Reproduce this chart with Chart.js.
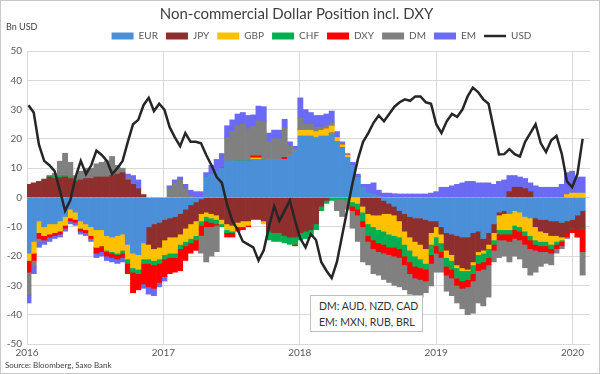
<!DOCTYPE html>
<html>
<head>
<meta charset="utf-8">
<script src="https://cdn.jsdelivr.net/npm/chart.js@4.4.1/dist/chart.umd.min.js"></script>
<style>
  body { margin: 0; background: #fff; }
  .wrap { position: relative; width: 600px; height: 374px; font-family: Lato, "Liberation Sans", sans-serif; }
  .frame { position: absolute; left: 0; top: 0; width: 600px; height: 374px; box-sizing: border-box; border: 1px solid #c8c8c8; pointer-events: none; }
  .unit { position: absolute; left: 6px; top: 21px; font-size: 9px; color: #404040; }
  .source { position: absolute; left: 5px; top: 360px; font-size: 8px; color: #404040; }
  .note { position: absolute; left: 310px; top: 295px; width: 113px; height: 37px; box-sizing: border-box; white-space: nowrap;
          border: 1px solid #bfbfbf; background: #fff; font-size: 10.5px; color: #333; padding: 2px 0 0 8px; line-height: 16px; }
</style>
</head>
<body>
<div class="wrap">
  <canvas id="dollarChart" width="600" height="374"></canvas>
  <div class="unit">Bn USD</div>
  <div class="source">Source: Bloomberg, Saxo Bank</div>
  <div class="note">DM: AUD, NZD, CAD<br>EM: MXN, RUB, BRL</div>
  <div class="frame"></div>
</div>
<script>
/* biweekly observations, Jan 2016 - Jan 2020 (Bn USD) */
const eur = [
  -19, -15, -8, -10, -9, -9, -8, -6.5, -4, -5,
  -8, -9, -10, -11, -11, -13, -13.5, -13, -12.5, -16,
  -19, -19.5, -15.5, -10, -9, -8.5, -7.5, -7, -6.5, -5.5,
  -4, -2.5, -1.5, -0.5, 7, 8, 9, 10, 12.5, 12.5,
  12.5, 12.5, 12.5, 13, 13, 13, 13, 13, 13, 13,
  14.5, 16, 21, 21, 21, 20.5, 21, 21, 22, 19,
  17, 13.5, 11, 7, 3.5, 1.5, 1, 0.5, -1, -2,
  -3, -4.5, -5.5, -6.5, -7, -7, -7.5, -8, -8, -10,
  -12, -12.5, -13, -13.5, -13.5, -12, -11.5, -14, -12, -9,
  -5, -4.5, -5.5, -4.5, -5, -6.5, -7, -7, -7.5, -7.5,
  -8, -8, -8.5, -8, -7.5, -6, -4.5
];
const jpy = [
  4.5, 5, 5.5, 6.3, 7, 6.5, 6.8, 7, 6.5, 5.5,
  6, 6.5, 6.5, 7, 7, 7, 7.5, 8, 8.5, 6,
  4.5, 3, 1, -6, -8.5, -8.5, -7, -6.5, -7, -7,
  -6.5, -6.5, -6.5, -5, -5, -5.5, -6, -7.5, -9, -9.5,
  -8.5, -8, -8, -7.5, -7.5, -8, -11.5, -12, -12, -13,
  -13.5, -13.5, -12, -11.5, -11, -9, -3, -1, 0, 0,
  0, 0, 0, 0, -3, -5.5, -6, -6, -4.5, -3.5,
  -3, -3.5, -6, -7, -8, -9, -10, -4, -2, -2.5,
  -6, -7, -10, -10.5, -11, -10, -7, -4, -4, -3,
  -1, -1, 2, 3.5, 3.5, 3, 2, -3, -4, -4.5,
  -5, -5, -5, -4, -3, -5, -6
];
const gbp = [
  -2.5, -4, -4, -3, -3.5, -3, -3.5, -3, -3, -2.5,
  -2.5, -2, -3, -6, -5.5, -5, -5, -6, -5.5, -5,
  -5, -5, -5.5, -5, -4, -4, -5, -5.5, -5.5, -3.5,
  -4.5, -5, -5, -2.5, -1.5, -1.5, -1.5, -1.5, -2, -2,
  -1.5, -2, -1.5, 0.5, 0.5, -1, 0, 0, 0, 0,
  0, 0, 2, 2, 2, 2, 2, 2.5, 2.5, 1.5,
  1, 1, -1.5, -2, -2, -3.5, -4, -5, -6, -7,
  -7, -5.5, -4.5, -4.5, -5, -5, -5, -4, -3.5, -3,
  -2.5, -2, -1, -1, -0.5, -1, -1, -1, -1.5, -2.5,
  -5, -5.5, -5.5, -5, -5, -5, -6, -4.5, -3.5, -3,
  -3, -2, -1, 1, 1.5, 1.5, 1.5
];
const chf = [
  0, 0, 0, 0, 0.5, 0.7, 0.6, 0.6, 0.5, 0.5,
  0, 0, 0, 0, 0, -0.5, -0.5, -0.5, -1, -1.5,
  -1.5, -1.5, -1.5, -1.5, -1.5, -1.5, -1.5, -1.5, -1.5, -1.5,
  -1.5, -1.5, -1.5, -1.5, -1.5, -1.5, -1.5, -1, -1, -0.5,
  0, 0, 0, 0, 0, 0, -3, -3, -3, -2.5,
  -2.5, -2.5, -2.5, -2.5, -2, -2, -1.5, -1, -1, -0.5,
  -0.5, -1, -1.5, -2, -3, -4, -4.5, -4.5, -4.5, -4.5,
  -4, -4, -4, -4, -3.5, -3, -2, -3.5, -3, -3,
  -3, -3, -3.5, -3.5, -3, -3, -3, -3, -3, -1.5,
  -1.5, -1.5, -1.5, -1.5, -1.5, -1.5, -1.5, -1.5, -1.5, -1.5,
  -1.5, -1, -0.5, 0, 0, 0, 0
];
const dxy = [
  -4, -2.5, -2, -1.5, -1, -1, -1, -1, -1, -1,
  -1, -1, -1, -2, -2, -1.5, -1.5, -1.5, -1.5, -3.5,
  -7, -5.5, -7, -8, -8, -6.5, -6, -5.5, -5, -7.5,
  -5, -3.5, -3.5, -3.5, -2, -1.5, -0.5, 0, -1.5, -1.5,
  -1.5, -1, -0.5, 0.7, 0.7, 0, 0, 0, 0, 0.7,
  0, -0.5, 0, 0, 0, 0, 0, 0, 0, 0,
  0, 0, -1.5, -2, -2, -2, -3, -3, -3, -2.5,
  -3, -3, -3, -4, -4, -4, -4, -3, -2.5, -2,
  -3, -3, -2.5, -2.5, -2.5, -2.5, -2.5, -2.5, -2.5, -2,
  -2, -2, -2.5, -3, -3, -3, -3, -2, -2, -2,
  -1.5, -1.5, -1.5, -1.5, -1.5, -2.5, -8
];
const dm = [
  -7.5, -2, -1, 0, 0, 1, 5, 7.5, 5, 1.5,
  3, 3.5, 3.5, 4.5, 5, 5.5, 6.5, 3, 1.5, 0.5,
  0, 0, 0, 0, 0, 0, 0, 3, 5, 6,
  3, 0.5, 0, -6, -12, -10, -9, 0, 8, 10,
  12, 12.5, 11, 10, 12, 13, 6, 7, 7, 10,
  3, 0.5, 4, 2, 2, 1.5, 1, 1, 1, -4,
  -6, -3, -6, -9, -12, -8, -8.5, -8, -9, -9.5,
  -10, -10, -8.5, -7, -6.5, -6, -4, -7.7, -6.5, -5,
  -5.5, -6, -6, -7, -9.5, -11, -11, -12.5, -11, -4,
  -6, -5.5, -7, -6, -6.5, -8, -9, -7.5, -5, -4,
  -4, -1.5, -1, -0.5, 0, 0, -8
];
const em = [
  -3, -2.5, -2, -1.5, -1.5, -1, -1, -1, -1, -1,
  -1, -1, -1, -1.5, -1.5, -1.5, -1.5, -1.5, -1.5, 1.5,
  3, 3, -1.5, -2.5, -2.5, -1.5, -1.5, 1, 1, 1,
  1.5, 2, 2, 2, 1.5, 3, 4, 5, 4, 4,
  4, 4, 4.5, 4, 5, 5, 3, 3, 3, 3,
  1.5, 1, 7, 5, 4, 4, 4, 4, 4, 2,
  1, 0.5, 1, 1, 1, 3, 4, 2, 1.5, 1.5,
  1.3, 1.2, 1.2, 1.2, 1.2, 1.2, 1.2, 1.5, 2, 3.5,
  3.5, 4, 4.5, 5, 5.5, 5.5, 5, 5, 5, 4.5,
  5.5, 6, 5.5, 4, 3.5, 3.5, 3, 4, 3.5, 3.5,
  3.5, 3.5, 4.5, 7.5, 7.5, 5.5, 5.5
];
const usd = [
  31.5, 29, 18, 12.5, 11, 9, 2.5, -4.5, -1, 7,
  12.5, 8, 11, 16, 14.5, 12.5, 8, 10, 12.5, 19,
  25, 26.5, 31.5, 34, 29.5, 32, 30, 24, 20.5, 17.5,
  22, 19, 19, 18.5, 14.5, 11, 7, 5, -2.5, -8,
  -11, -15, -16, -17, -21.5, -18, -10, -3, -8, -4.5,
  -1, -8, -14, -17, -12.5, -14.5, -22, -25, -27.5, -22,
  -13, -4, 5, 13, 19, 22, 25.5, 28, 26, 28.5,
  31, 32.5, 33.5, 33, 34.5, 34.5, 32.5, 32, 25, 22,
  26, 28.5, 27.5, 30, 34.5, 37.5, 36, 33.5, 32, 23.5,
  14.7, 14.8, 16.5, 14.8, 14, 19, 22, 25, 18.5, 15.5,
  19.5, 21, 15, 5.5, 3.5, 8, 20
];
const yearTicks = [2016, 2017, 2018, 2019, 2020];

/* x position of each report as a decimal year (every 14 days from 5 Jan 2016) */
const dates = usd.map((v, i) => 2016 + (4 + 14 * i) / 365.25);

const FONT = "Lato, 'Liberation Sans', sans-serif";
const toPoints = (arr) => arr.map((v, i) => ({ x: dates[i], y: v }));

const series = [
  { label: "EUR", data: eur, color: "#4a8fd8" },
  { label: "JPY", data: jpy, color: "#8e2f2e" },
  { label: "GBP", data: gbp, color: "#ffc000" },
  { label: "CHF", data: chf, color: "#00b050" },
  { label: "DXY", data: dxy, color: "#ff0000" },
  { label: "DM", data: dm, color: "#808080" },
  { label: "EM", data: em, color: "#6a6af5" },
];

const datasets = series.map((s) => ({
  type: "bar",
  label: s.label,
  data: toPoints(s.data),
  backgroundColor: s.color,
  borderWidth: 0,
  barPercentage: 1,
  categoryPercentage: 1,
  order: 1,
}));

datasets.push({
  type: "line",
  label: "USD",
  data: toPoints(usd),
  borderColor: "#262626",
  borderWidth: 2.5,
  pointRadius: 0,
  tension: 0,
  stack: "usd",
  order: 0,
});

/* legend in the original sits a bit right of centre */
const legendShift = {
  id: "legendShift",
  afterUpdate(chart) {
    if (chart.legend) chart.legend.left += 50;
  },
};

new Chart(document.getElementById("dollarChart"), {
  type: "bar",
  data: { datasets },
  plugins: [legendShift],
  options: {
    responsive: false,
    animation: false,
    layout: { padding: { left: 3, right: 10, top: 0, bottom: 12 } },
    plugins: {
      title: {
        display: true,
        text: "Non-commercial Dollar Position incl. DXY",
        color: "#404040",
        font: { family: FONT, size: 15, weight: "normal" },
        padding: { top: 5, bottom: 0 },
      },
      legend: {
        labels: {
          color: "#595959",
          font: { family: FONT, size: 10 },
          usePointStyle: true,
          pointStyleWidth: 22,
          boxHeight: 7,
          padding: 8,
          sort: (a, b) => a.datasetIndex - b.datasetIndex,
          generateLabels: (chart) =>
            chart.data.datasets.map((ds, i) => ({
              text: ds.label,
              datasetIndex: i,
              fillStyle: ds.type === "line" ? ds.borderColor : ds.backgroundColor,
              strokeStyle: ds.type === "line" ? ds.borderColor : ds.backgroundColor,
              lineWidth: ds.type === "line" ? 2.5 : 0,
              pointStyle: ds.type === "line" ? "line" : "rect",
              fontColor: "#595959",
              hidden: false,
            })),
        },
      },
      tooltip: { enabled: false },
    },
    scales: {
      x: {
        type: "linear",
        stacked: true,
        offset: false,
        min: 2016,
        max: 2020.128,
        afterBuildTicks: (scale) => {
          scale.ticks = yearTicks.map((v) => ({ value: v }));
        },
        ticks: {
          color: "#595959",
          font: { family: FONT, size: 10 },
          padding: 3,
          maxRotation: 0,
          callback: (v) => String(v),
        },
        grid: { color: "#d9d9d9", drawTicks: false, offset: false },
        border: { display: false },
      },
      y: {
        stacked: true,
        min: -50,
        max: 50,
        afterFit: (scale) => {
          scale.width = 24;
        },
        ticks: {
          stepSize: 10,
          color: "#595959",
          font: { family: FONT, size: 10 },
          padding: 5,
        },
        grid: { color: "#d9d9d9", drawTicks: false },
        border: { display: false },
      },
    },
  },
});
</script>
</body>
</html>
